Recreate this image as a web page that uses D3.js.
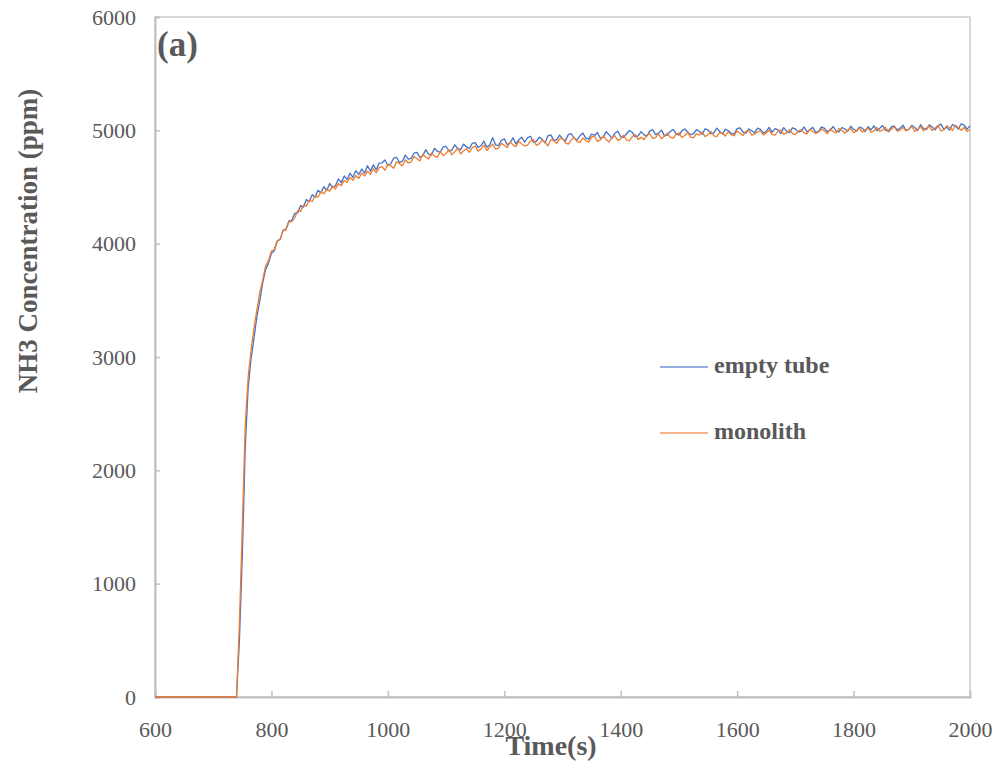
<!DOCTYPE html>
<html>
<head>
<meta charset="utf-8">
<script src="https://cdn.jsdelivr.net/npm/d3@7"></script>
<style>
  html, body { margin: 0; padding: 0; background: #fff; }
  svg { display: block; }
  text { font-family: "Liberation Serif", "Times New Roman", serif; fill: #595959; }
</style>
</head>
<body>
<svg id="chart" width="1000" height="763"></svg>
<script>
// ---- data ----
const seriesNames = ["empty tube", "monolith"];
const xTicks = [600, 800, 1000, 1200, 1400, 1600, 1800, 2000];
const yTicks = [0, 1000, 2000, 3000, 4000, 5000, 6000];
// sample times (s): 600, then every 5 s from 740 to 2000
const times = [600].concat(d3.range(740, 2001, 5));

const emptyTube = [0,
  0, 500, 1250, 2200, 2730, 2985, 3165, 3355, 3495, 3655,
  3772, 3828, 3915, 3938, 4021, 4040, 4118, 4129, 4201, 4206,
  4268, 4271, 4335, 4322, 4389, 4370, 4432, 4409, 4471, 4448,
  4502, 4470, 4531, 4495, 4512, 4571, 4538, 4598, 4566, 4621,
  4585, 4645, 4610, 4659, 4622, 4688, 4640, 4695, 4652, 4711,
  4712, 4738, 4690, 4705, 4755, 4762, 4716, 4728, 4781, 4745,
  4752, 4798, 4806, 4760, 4775, 4829, 4790, 4782, 4842, 4815,
  4808, 4852, 4860, 4815, 4826, 4872, 4838, 4830, 4878, 4856,
  4840, 4885, 4892, 4848, 4866, 4904, 4852, 4870, 4935, 4872,
  4866, 4912, 4926, 4872, 4890, 4934, 4880, 4918, 4940, 4895,
  4935, 4948, 4895, 4902, 4940, 4921, 4889, 4952, 4960, 4910,
  4918, 4958, 4925, 4907, 4962, 4970, 4930, 4915, 4952, 4976,
  4931, 4922, 4968, 4955, 4981, 4930, 4940, 4988, 4962, 4928,
  4975, 4992, 4945, 4938, 4970, 4998, 4981, 4943, 4952, 4989,
  4960, 4948, 4995, 5004, 4962, 4975, 5002, 4951, 4958, 4990,
  5008, 4970, 4958, 4995, 5012, 4985, 4962, 4968, 5006, 4992,
  4965, 5014, 5002, 4970, 4978, 5020, 4990, 4968, 5010, 4996,
  4972, 4968, 5016, 5022, 4985, 4975, 5012, 4996, 4978, 5020,
  5008, 4975, 4990, 5026, 4982, 5015, 5004, 4972, 5024, 4990,
  4980, 5022, 5012, 4984, 4992, 5030, 4986, 5006, 5026, 4981,
  4990, 5030, 5018, 4988, 5002, 5034, 4994, 4986, 5025, 5012,
  4992, 5036, 5010, 4996, 5028, 5020, 4990, 5032, 5004, 5040,
  4996, 5018, 5042, 5000, 4995, 5030, 5038, 5002, 5020, 5046,
  5000, 5008, 5044, 5025, 4998, 5050, 5018, 5006, 5048, 5030,
  5004, 5040, 5055, 5010, 5028, 5002, 5052, 5036, 5012, 5058,
  5046, 5010, 5040
];

const monolith = [0,
  0, 650, 1500, 2400, 2820, 3060, 3255, 3415, 3570, 3680,
  3805, 3850, 3935, 3948, 4026, 4038, 4115, 4122, 4190, 4195,
  4228, 4290, 4285, 4340, 4331, 4385, 4372, 4420, 4410, 4458,
  4440, 4482, 4463, 4508, 4482, 4530, 4512, 4558, 4540, 4585,
  4560, 4601, 4575, 4625, 4596, 4640, 4611, 4662, 4625, 4671,
  4680, 4648, 4702, 4690, 4665, 4722, 4708, 4686, 4740, 4712,
  4720, 4768, 4752, 4730, 4790, 4765, 4748, 4800, 4772, 4762,
  4812, 4776, 4795, 4830, 4784, 4810, 4845, 4792, 4818, 4838,
  4805, 4848, 4862, 4815, 4835, 4870, 4822, 4852, 4878, 4835,
  4840, 4885, 4868, 4848, 4898, 4872, 4856, 4905, 4880, 4862,
  4870, 4905, 4918, 4868, 4880, 4912, 4896, 4862, 4920, 4908,
  4885, 4925, 4930, 4890, 4878, 4916, 4938, 4900, 4893, 4932,
  4910, 4896, 4940, 4948, 4902, 4915, 4950, 4920, 4898, 4935,
  4952, 4912, 4925, 4958, 4915, 4908, 4945, 4962, 4920, 4938,
  4918, 4960, 4970, 4928, 4935, 4972, 4925, 4948, 4975, 4940,
  4930, 4962, 4978, 4938, 4955, 4982, 4940, 4934, 4970, 4958,
  4985, 4944, 4962, 4990, 4952, 4945, 4980, 4972, 4950, 4988,
  4960, 4952, 4994, 4975, 4955, 4990, 4998, 4958, 4968, 4985,
  4998, 4960, 4975, 5002, 4962, 4958, 4990, 5004, 4965, 4978,
  5006, 4970, 4962, 4992, 5008, 4978, 4968, 5010, 4990, 4972,
  4985, 5012, 4995, 4970, 5014, 4990, 4978, 5016, 4998, 4975,
  5000, 5018, 4980, 4990, 5022, 4985, 5005, 5020, 4982, 4995,
  5025, 4990, 5004, 5028, 4984, 5012, 5030, 4992, 5002, 5026,
  4995, 5012, 5034, 4990, 5008, 5035, 4996, 5018, 5038, 4998,
  5020, 5042, 4996, 5004, 5040, 5025, 4998, 5045, 5022, 5000,
  5025, 4990, 5005
];

// ---- layout ----
const svg = d3.select("#chart");
const margin = { left: 155, right: 30, top: 17, bottom: 66 };
const W = 1000, H = 763;
const x = d3.scaleLinear().domain([600, 2000]).range([margin.left, W - margin.right]);
const y = d3.scaleLinear().domain([0, 6000]).range([H - margin.bottom, margin.top]);

// plot border (top/right)
svg.append("rect")
  .attr("x", x(600)).attr("y", y(6000))
  .attr("width", x(2000) - x(600)).attr("height", y(0) - y(6000))
  .attr("fill", "none").attr("stroke", "#bfbfbf").attr("stroke-width", 1.2);

// axes with inward ticks
const xAxis = d3.axisBottom(x).tickValues(xTicks).tickSize(-6).tickPadding(24).tickFormat(d3.format("d"));
const yAxis = d3.axisLeft(y).tickValues(yTicks).tickSize(-5).tickPadding(19).tickFormat(d3.format("d"));

const gx = svg.append("g").attr("transform", `translate(0,${y(0)})`).call(xAxis);
const gy = svg.append("g").attr("transform", `translate(${x(600)},0)`).call(yAxis);
[gx, gy].forEach(g => {
  g.select(".domain").attr("stroke", "#bfbfbf").attr("stroke-width", 2);
  g.selectAll(".tick line").attr("stroke", "#bfbfbf").attr("stroke-width", 1.5);
  g.selectAll(".tick text")
    .style("font-family", '"Liberation Serif", "Times New Roman", serif')
    .style("font-size", "22px").attr("fill", "#595959");
});
gx.selectAll(".tick").filter(d => d === 600 || d === 2000).select("line").remove();
gy.selectAll(".tick").filter(d => d === 0 || d === 6000).select("line").remove();

// lines
const colors = ["#4472C4", "#ED7D31"];
const seriesData = [emptyTube, monolith];
const line = d3.line().x((d, i) => x(times[i])).y(d => y(d));
seriesData.forEach((s, k) => {
  svg.append("path").datum(s)
    .attr("fill", "none").attr("stroke", colors[k])
    .attr("stroke-width", 1.3).attr("stroke-linejoin", "round")
    .attr("d", line);
});

// legend
const legendY = [367, 433];
seriesNames.forEach((n, k) => {
  svg.append("line")
    .attr("x1", 660).attr("x2", 708).attr("y1", legendY[k]).attr("y2", legendY[k])
    .attr("stroke", colors[k]).attr("stroke-width", 1.3).attr("opacity", 0.75);
  svg.append("text").attr("x", 714).attr("y", legendY[k] + 6)
    .style("font-size", "24px").style("font-weight", "bold").text(n);
});

// panel label
svg.append("text").attr("x", 157).attr("y", 56)
  .style("font-size", "35px").style("font-weight", "bold").text("(a)");

// axis titles
svg.append("text").attr("x", 551).attr("y", 755).attr("text-anchor", "middle")
  .style("font-size", "28px").style("font-weight", "bold").text("Time(s)");
svg.append("text")
  .attr("transform", "translate(37,241) rotate(-90)")
  .attr("text-anchor", "middle")
  .style("font-size", "27px").style("font-weight", "bold").text("NH3 Concentration (ppm)");
</script>
</body>
</html>
